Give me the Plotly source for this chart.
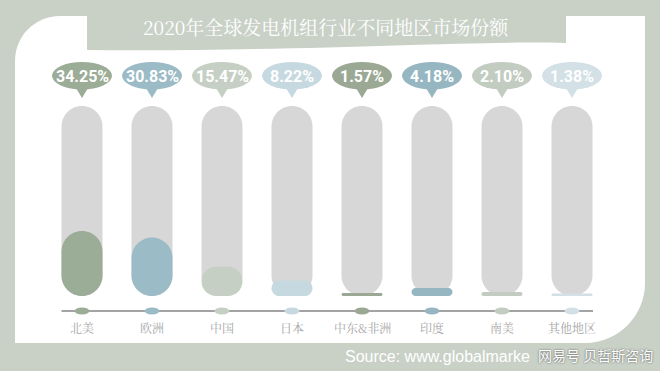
import plotly.graph_objects as go

# ---------------- data ----------------
categories = ["北美", "欧洲", "中国", "日本", "中东&非洲", "印度", "南美", "其他地区"]
shares = [34.25, 30.83, 15.47, 8.22, 1.57, 4.18, 2.10, 1.38]
colors = ["#9bac97", "#9bbbc6", "#c6cfc3", "#c7d9e0", "#9aa894", "#96b7c1", "#c3ccc1", "#d3e0e5"]
title_text = "2020年全球发电机组行业不同地区市场份额"
source_text = "Source: www.globalmarke"
watermark_text = "网易号 贝哲斯咨询"

# ---------------- geometry (pixels -> axis units) ----------------
W, H = 660, 371
X0_PX, DX_PX = 82, 70          # first category centre, spacing
Y0_PX, PX_PER_PCT = 296, 1.9   # value 0 baseline, px per percent
BAR_HALF = 20.5 / DX_PX
RX = 20.5 / DX_PX
RY = 20.5 / PX_PER_PCT
K = 0.5523

xr = [-X0_PX / DX_PX, (W - X0_PX) / DX_PX]
yr = [-(H - Y0_PX) / PX_PER_PCT, Y0_PX / PX_PER_PCT]


def px2y(py):
    return (Y0_PX - py) / PX_PER_PCT


def rrect(x0, x1, y0, y1, rx, ry):
    rx = min(rx, (x1 - x0) / 2)
    ry = min(ry, (y1 - y0) / 2)
    rpx = min(rx * DX_PX, ry * PX_PER_PCT)
    rx, ry = rpx / DX_PX, rpx / PX_PER_PCT
    p = f"M {x0},{y0+ry} L {x0},{y1-ry} "
    p += f"C {x0},{y1-ry+K*ry} {x0+rx-K*rx},{y1} {x0+rx},{y1} "
    p += f"L {x1-rx},{y1} "
    p += f"C {x1-rx+K*rx},{y1} {x1},{y1-ry+K*ry} {x1},{y1-ry} "
    p += f"L {x1},{y0+ry} "
    p += f"C {x1},{y0+ry-K*ry} {x1-rx+K*rx},{y0} {x1-rx},{y0} "
    p += f"L {x0+rx},{y0} "
    p += f"C {x0+rx-K*rx},{y0} {x0},{y0+ry-K*ry} {x0},{y0+ry} Z"
    return p


fig = go.Figure()
fig.add_trace(go.Scatter(x=[None], y=[None], xaxis="x", yaxis="y", showlegend=False, hoverinfo="skip"))
fig.add_trace(go.Scatter(x=[None], y=[None], xaxis="x2", yaxis="y2", showlegend=False, hoverinfo="skip"))

shapes = []
BG = "#c9d1c7"
shapes.append(dict(type="path", xref="x2", yref="y2", layer="below",
                   path="M 15,343 L 15,61 C 15,36 35,16 60,16 L 645,16 L 645,283 "
                        "C 645,316 618,343 585,343 Z",
                   fillcolor="white", line=dict(width=0)))
shapes.append(dict(type="path", xref="x2", yref="y2", layer="below",
                   path="M 87,0 L 566,0 L 566,43 C 470,40 300,52 87,50 Z",
                   fillcolor=BG, line=dict(width=0)))

line_y = px2y(311)
shapes.append(dict(type="line", xref="x", yref="y", x0=-BAR_HALF, x1=len(categories) - 1 + 0.3,
                   y0=line_y, y1=line_y, line=dict(color="#a3a3a3", width=2)))

annotations = []
for i, (cat, v, c) in enumerate(zip(categories, shares, colors)):
    shapes.append(dict(type="path", xref="x", yref="y",
                       path=rrect(i - BAR_HALF, i + BAR_HALF, 0, 100, RX, RY),
                       fillcolor="#d7d7d7", line=dict(width=0)))
    shapes.append(dict(type="path", xref="x", yref="y",
                       path=rrect(i - BAR_HALF, i + BAR_HALF, 0, v, RX, RY),
                       fillcolor=c, line=dict(width=0)))
    shapes.append(dict(type="circle", xref="x", yref="y",
                       x0=i - 30 / DX_PX, x1=i + 30 / DX_PX, y0=px2y(89.5), y1=px2y(62),
                       fillcolor=c, line=dict(width=0)))
    shapes.append(dict(type="path", xref="x", yref="y",
                       path=f"M {i-6/DX_PX},{px2y(88)} L {i+6/DX_PX},{px2y(88)} L {i},{px2y(98)} Z",
                       fillcolor=c, line=dict(width=0)))
    annotations.append(dict(x=i, y=px2y(76), xref="x", yref="y", text=f"{v:.2f}%",
                            showarrow=False,
                            font=dict(family="Roboto, sans-serif",
                                      size=16, color="white", weight="bold")))
    shapes.append(dict(type="circle", xref="x", yref="y",
                       x0=i - 7.5 / DX_PX, x1=i + 7.5 / DX_PX, y0=px2y(314.5), y1=px2y(307.5),
                       fillcolor=c, line=dict(width=0)))
    annotations.append(dict(x=i, y=px2y(327.5), xref="x", yref="y", text=cat, showarrow=False,
                            font=dict(family="Noto Serif CJK SC, Noto Sans CJK SC, sans-serif",
                                      size=12, color="#a6a6a6")))

annotations.append(dict(x=326 / W, y=1 - 26 / H, xref="paper", yref="paper", text=title_text,
                        showarrow=False, xanchor="center", yanchor="middle",
                        font=dict(family="Noto Serif CJK SC, Noto Sans CJK SC, sans-serif",
                                  size=19, color="white")))
annotations.append(dict(x=343 / W, y=1 - 356 / H, xref="paper", yref="paper", text=source_text,
                        showarrow=False, xanchor="left", yanchor="middle",
                        font=dict(family="Liberation Sans, Arial, sans-serif", size=16, color="white")))
annotations.append(dict(x=536 / W, y=1 - 355 / H, xref="paper", yref="paper", text=watermark_text,
                        showarrow=False, xanchor="left", yanchor="middle",
                        font=dict(family="Noto Sans CJK SC, sans-serif", size=14, color="white",
                                  shadow="0px 0px 2px #444")))

fig.update_layout(
    width=W, height=H,
    margin=dict(l=0, r=0, t=0, b=0),
    paper_bgcolor=BG, plot_bgcolor="rgba(0,0,0,0)",
    showlegend=False,
    xaxis=dict(range=xr, visible=False, fixedrange=True),
    yaxis=dict(range=yr, visible=False, fixedrange=True),
    xaxis2=dict(range=[0, W], visible=False, overlaying="x", fixedrange=True),
    yaxis2=dict(range=[H, 0], visible=False, overlaying="y", fixedrange=True),
    shapes=shapes,
    annotations=annotations,
)

fig.write_html("out.html", config={"displayModeBar": False},
               post_script="document.body.style.margin='0';document.body.style.overflow='hidden';")
